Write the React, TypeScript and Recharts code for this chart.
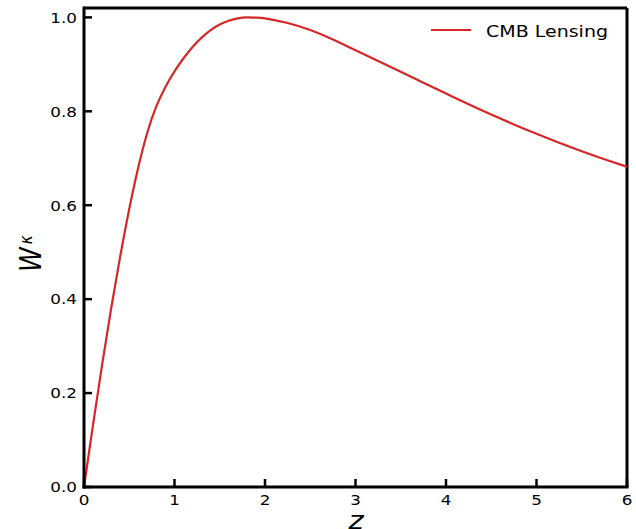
import React from 'react';
import { LineChart, Line, XAxis, YAxis, ReferenceLine } from 'recharts';

const zValues = [0, 0.1, 0.2, 0.3, 0.4, 0.5, 0.6, 0.7, 0.8, 0.9, 1.0, 1.1, 1.2, 1.3, 1.4, 1.5, 1.6, 1.7, 1.8, 1.9, 2.0, 2.25, 2.5, 2.75, 3.0, 3.25, 3.5, 3.75, 4.0, 4.25, 4.5, 4.75, 5.0, 5.25, 5.5, 5.75, 6.0];
const wValues = [0, 0.133, 0.26, 0.38, 0.491, 0.592, 0.681, 0.755, 0.811, 0.852, 0.885, 0.913, 0.937, 0.957, 0.973, 0.985, 0.993, 0.998, 1.0, 0.9995, 0.998, 0.988, 0.973, 0.953, 0.93, 0.907, 0.884, 0.861, 0.838, 0.815, 0.793, 0.772, 0.752, 0.733, 0.715, 0.698, 0.682];
const xTicks = [0, 1, 2, 3, 4, 5, 6];
const yTicks = [0, 0.2, 0.4, 0.6, 0.8, 1.0];
const xDomain: [number, number] = [0, 6];
const yDomain: [number, number] = [0, 1.02];
const seriesName = 'CMB Lensing';

const data = zValues.map((z, i) => ({ z, w: wValues[i] }));

const FONT = 'DejaVu Sans, sans-serif';
const RED = '#d62728';
const STRETCH = 1.2;

const textWidth = (s: string, size: number) => {
  let em = 0;
  for (const c of s) em += c === '.' ? 0.318 : 0.636;
  return em * size * STRETCH;
};

const XTick = (props: any) => {
  const { x, y, payload } = props;
  const label = String(payload.value);
  return (
    <g>
      <line x1={x} y1={y} x2={x} y2={y - 8} stroke="#000" strokeWidth={2.5} />
      <text x={x} y={y + 18} textAnchor="middle" fontFamily={FONT} fontSize={14} fill="#000"
        textLength={textWidth(label, 14)} lengthAdjust="spacingAndGlyphs">{label}</text>
    </g>
  );
};

const YTick = (props: any) => {
  const { x, y, payload } = props;
  const label = Number(payload.value).toFixed(1);
  return (
    <g>
      <line x1={x} y1={y} x2={x + 8} y2={y} stroke="#000" strokeWidth={2.5} />
      <text x={x - 7} y={y + 5.3} textAnchor="end" fontFamily={FONT} fontSize={14} fill="#000"
        textLength={textWidth(label, 14)} lengthAdjust="spacingAndGlyphs">{label}</text>
    </g>
  );
};

const YLabel = () => (
  <text transform="translate(40.5,272) rotate(-90) scale(1,1.2)" fontFamily={FONT} fontStyle="italic" fontSize={25} fill="#000">
    W<tspan fontSize={15} dx={3} dy={-7}>κ</tspan>
  </text>
);

const XLabel = () => (
  <text transform="translate(356,529) scale(1.2,1)" textAnchor="middle" fontFamily={FONT} fontStyle="italic" fontSize={24} fill="#000">z</text>
);

const axisLineStyle = { stroke: '#000', strokeWidth: 3, strokeLinecap: 'square' as const };

export default function App() {
  return (
    <div style={{ position: 'absolute', left: 0, top: 0, width: 636, height: 529, background: '#fff' }}>
      <LineChart width={636} height={529} data={data} margin={{ top: 8, right: 9, bottom: 0, left: 0 }}>
        <XAxis dataKey="z" type="number" domain={xDomain} ticks={xTicks} height={42}
          axisLine={axisLineStyle} tickLine={false} tickSize={0} tickMargin={0} tick={<XTick />}
          interval={0} allowDataOverflow label={<XLabel />} />
        <YAxis type="number" domain={yDomain} ticks={yTicks} width={84}
          axisLine={axisLineStyle} tickLine={false} tickSize={0} tickMargin={0} tick={<YTick />}
          interval={0} allowDataOverflow label={<YLabel />} />
        <ReferenceLine y={yDomain[1]} stroke="#000" strokeWidth={3} ifOverflow="visible" />
        <ReferenceLine x={xDomain[1]} stroke="#000" strokeWidth={3} ifOverflow="visible" />
        <Line dataKey="w" name={seriesName} type="natural" stroke={RED} strokeWidth={2.2} dot={false} isAnimationActive={false} />
      </LineChart>
      <div style={{ position: 'absolute', left: 425, top: 18, width: 200, height: 26 }}>
        <svg width={200} height={26} style={{ display: 'block' }}>
          <line x1={6} y1={12} x2={46} y2={12} stroke={RED} strokeWidth={2.2} />
          <text x={61} y={18.7} fontFamily={FONT} fontSize={16} fill="#000"
            textLength={122} lengthAdjust="spacingAndGlyphs">{seriesName}</text>
        </svg>
      </div>
    </div>
  );
}
